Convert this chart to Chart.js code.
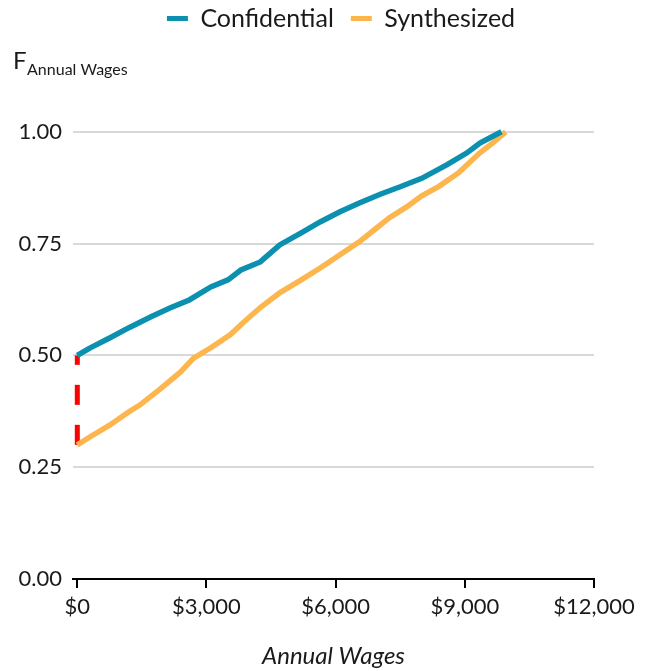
<!DOCTYPE html>
<html>
<head>
<meta charset="utf-8">
<script src="https://cdn.jsdelivr.net/npm/chart.js@4.4.1/dist/chart.umd.min.js"></script>
<style>
  html, body { margin: 0; padding: 0; background: #ffffff; }
  #wrap { width: 649px; height: 671px; }
</style>
</head>
<body>
<div id="wrap"><canvas id="cdf" width="649" height="671"></canvas></div>
<script>
// Empirical CDF of annual wages, confidential vs synthesized records
const seriesNames = ['Confidential', 'Synthesized'];

const confidentialWages = [0, 300, 750, 1200, 1700, 2150, 2600, 3100, 3500, 3800, 4250, 4700, 5200, 5650, 6100, 6550, 7050, 7500, 8000, 8600, 9050, 9350, 9850];
const confidentialF     = [0.500, 0.517, 0.539, 0.562, 0.586, 0.606, 0.624, 0.653, 0.669, 0.691, 0.709, 0.747, 0.774, 0.799, 0.821, 0.841, 0.861, 0.877, 0.896, 0.927, 0.953, 0.975, 1.000];

const synthesizedWages = [0, 300, 750, 1200, 1450, 1900, 2400, 2700, 3100, 3550, 3850, 4250, 4700, 5200, 5650, 6100, 6550, 6900, 7250, 7650, 8000, 8400, 8850, 9350, 9650, 9950];
const synthesizedF     = [0.300, 0.318, 0.344, 0.374, 0.389, 0.423, 0.463, 0.494, 0.517, 0.546, 0.573, 0.607, 0.640, 0.669, 0.696, 0.725, 0.754, 0.781, 0.808, 0.832, 0.857, 0.878, 0.908, 0.953, 0.975, 1.000];

// Gap between the two CDFs at zero wages
const gapWages = [0, 0];
const gapF = [0.30, 0.50];

const xTickValues = [0, 3000, 6000, 9000, 12000];
const yTickValues = [0, 0.25, 0.50, 0.75, 1.00];

const xAxisTitle = 'Annual Wages';
const yAxisSymbol = 'F';
const yAxisSubscript = 'Annual Wages';

const colors = { confidential: '#0c90b0', synthesized: '#fdb54e', gap: '#ff0000', text: '#1a1a1a', grid: '#d9d9d9' };
const FONT = 'Lato, "Open Sans", sans-serif';
const LEGEND_CENTER_X = 341;

const toPoints = (xs, ys) => xs.map((x, i) => ({ x: x, y: ys[i] }));

// Draws the subscript of the y-axis symbol next to the title "F"
const subscriptPlugin = {
  id: 'symbolSubscript',
  afterDraw(chart) {
    const tb = chart.titleBlock;
    if (!tb) return;
    const ctx = chart.ctx;
    const tfont = chart.options.plugins.title.font;
    const pad = chart.options.plugins.title.padding;
    ctx.save();
    ctx.font = `${tfont.size}px ${tfont.family}`;
    const fw = ctx.measureText(yAxisSymbol).width;
    const centerY = tb.top + pad.top + tfont.size * 1.2 / 2;
    ctx.font = `16px ${FONT}`;
    ctx.fillStyle = colors.text;
    ctx.textAlign = 'left';
    ctx.textBaseline = 'middle';
    ctx.fillText(yAxisSubscript, tb.left + fw + 0.5, centerY + 8);
    ctx.restore();
  }
};

// Centres the legend row over the plot rather than the whole canvas
const legendShiftPlugin = {
  id: 'legendShift',
  afterLayout(chart) {
    const lg = chart.legend;
    if (!lg) return;
    const dx = LEGEND_CENTER_X - (lg.left + lg.right) / 2;
    lg.left += dx;
    lg.right += dx;
  }
};

new Chart(document.getElementById('cdf'), {
  type: 'line',
  data: {
    datasets: [
      {
        label: seriesNames[0],
        data: toPoints(confidentialWages, confidentialF),
        borderColor: colors.confidential,
        backgroundColor: colors.confidential,
        borderWidth: 5.5,
        pointRadius: 0,
        tension: 0,
        clip: false
      },
      {
        label: seriesNames[1],
        data: toPoints(synthesizedWages, synthesizedF),
        borderColor: colors.synthesized,
        backgroundColor: colors.synthesized,
        borderWidth: 5.5,
        pointRadius: 0,
        tension: 0,
        clip: false
      },
      {
        label: 'gap',
        data: toPoints(gapWages, gapF),
        borderColor: colors.gap,
        backgroundColor: colors.gap,
        borderWidth: 5,
        borderDash: [20, 20],
        borderCapStyle: 'butt',
        pointRadius: 0,
        clip: false
      }
    ]
  },
  options: {
    responsive: false,
    animation: false,
    devicePixelRatio: 1,
    layout: { padding: { top: -11, left: 13, right: 55, bottom: 0 } },
    plugins: {
      legend: {
        display: true,
        position: 'top',
        align: 'center',
        labels: {
          generateLabels: (chart) => Chart.defaults.plugins.legend.labels.generateLabels(chart)
            .filter(item => item.datasetIndex < 2)
            .map(item => Object.assign(item, { lineWidth: 0, strokeStyle: 'rgba(0,0,0,0)' })),
          boxWidth: 21,
          boxHeight: 5,
          padding: 17,
          color: colors.text,
          font: { family: FONT, size: 25 }
        }
      },
      title: {
        display: true,
        text: yAxisSymbol,
        align: 'start',
        position: 'top',
        weight: 500,
        color: colors.text,
        font: { family: FONT, size: 24, weight: 'normal' },
        padding: { top: 6, bottom: 56 }
      },
      tooltip: { enabled: false }
    },
    scales: {
      x: {
        type: 'linear',
        min: -100,
        max: 12000,
        afterFit: (scale) => { scale.height = 92; },
        afterBuildTicks: (scale) => { scale.ticks = xTickValues.map(v => ({ value: v })); },
        border: { display: true, color: '#000000', width: 2 },
        grid: { display: true, drawOnChartArea: false, drawTicks: true, tickLength: 9, color: '#000000', lineWidth: 2 },
        ticks: {
          padding: 6,
          color: colors.text,
          font: { family: FONT, size: 22 },
          maxRotation: 0,
          callback: (v) => '$' + Number(v).toLocaleString('en-US')
        },
        title: {
          display: true,
          text: xAxisTitle,
          color: colors.text,
          font: { family: FONT, size: 24, style: 'italic' },
          padding: { top: 0, bottom: 0 }
        }
      },
      y: {
        type: 'linear',
        min: 0,
        max: 1,
        afterFit: (scale) => { scale.width = 60; },
        afterBuildTicks: (scale) => { scale.ticks = yTickValues.map(v => ({ value: v })); },
        border: { display: false },
        grid: { display: true, drawTicks: false, color: colors.grid, lineWidth: 2 },
        ticks: {
          padding: 11,
          color: colors.text,
          font: { family: FONT, size: 22 },
          callback: (v) => Number(v).toFixed(2)
        }
      }
    }
  },
  plugins: [subscriptPlugin, legendShiftPlugin]
});
</script>
</body>
</html>
